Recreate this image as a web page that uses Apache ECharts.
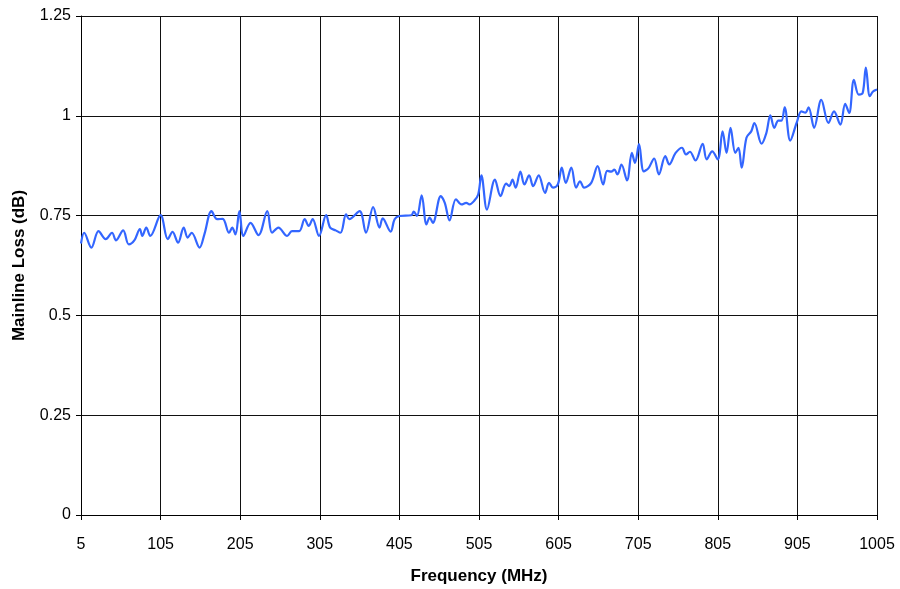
<!DOCTYPE html>
<html>
<head>
<meta charset="utf-8">
<script src="https://cdn.jsdelivr.net/npm/echarts@6/dist/echarts.min.js"></script>
<style>
html,body{margin:0;padding:0;background:#fff;}
#chart{width:900px;height:589px;}
</style>
</head>
<body>
<div id="chart"></div>
<script>
var freqMHz = [5,9,18,27,36,44,49,58,65,72,79,82,87,92,105,114,120,127,134,139,144,154,160,169,176,183,191,195,199,204,209,218,228,239,245,253,264,270,279,286,291,296,304,313,318,325,331,338,342,355,363,372,380,384,394,399,405,420,423,427,433,439,443,447,457,462,468,476,483,489,493,499,504,508,515,525,532,539,543,547,551,557,562,568,573,580,588,593,598,604,609,614,621,627,632,637,646,654,661,666,671,675,679,684,691,697,701,706,712,718,725,731,739,744,752,760,765,770,777,786,791,798,805,811,816,821,827,831,835,841,847,851,860,866,871,876,881,885,889,896,904,910,915,919,926,935,944,951,959,965,970,976,982,987,991,996,1000,1005];
var lossDb = [0.680,0.707,0.670,0.711,0.691,0.707,0.688,0.713,0.678,0.688,0.716,0.699,0.720,0.699,0.751,0.691,0.709,0.682,0.720,0.695,0.707,0.670,0.703,0.761,0.741,0.742,0.707,0.720,0.703,0.761,0.699,0.732,0.701,0.761,0.707,0.720,0.699,0.711,0.711,0.741,0.724,0.741,0.699,0.751,0.720,0.713,0.707,0.753,0.741,0.761,0.707,0.771,0.720,0.743,0.710,0.741,0.749,0.751,0.760,0.749,0.801,0.728,0.745,0.732,0.799,0.782,0.738,0.791,0.778,0.782,0.778,0.787,0.803,0.851,0.765,0.840,0.799,0.830,0.824,0.840,0.820,0.860,0.828,0.851,0.824,0.851,0.807,0.832,0.820,0.828,0.870,0.832,0.870,0.820,0.836,0.820,0.832,0.874,0.828,0.862,0.860,0.865,0.853,0.878,0.838,0.907,0.882,0.929,0.861,0.869,0.893,0.853,0.899,0.878,0.907,0.920,0.903,0.910,0.888,0.930,0.891,0.911,0.891,0.961,0.907,0.970,0.907,0.920,0.870,0.945,0.961,0.982,0.930,0.957,1.001,0.970,0.988,0.988,1.021,0.938,0.982,1.011,1.008,1.021,0.970,1.040,0.982,1.011,0.978,1.030,1.007,1.090,1.053,1.057,1.121,1.049,1.061,1.066];
var xTicks = [5,105,205,305,405,505,605,705,805,905,1005];
var yTicks = [0,0.25,0.5,0.75,1,1.25];

var seriesData = freqMHz.map(function(f,i){return [f, lossDb[i]];});
var font = '"Liberation Sans", Arial, sans-serif';

var chart = echarts.init(document.getElementById('chart'), null, {renderer:'canvas'});
chart.setOption({
  animation:false,
  backgroundColor:'#fff',
  grid:{left:81, right:23, top:16, bottom:74, containLabel:false, outerBoundsMode:'none'},
  xAxis:{
    type:'value', min:xTicks[0], max:xTicks[xTicks.length-1], interval:100,
    name:'Frequency (MHz)', nameLocation:'middle', nameGap:53,
    nameTextStyle:{fontFamily:font, fontSize:17, fontWeight:'bold', color:'#000'},
    axisLine:{show:true, onZero:false, lineStyle:{color:'#000', width:1}},
    axisTick:{show:true, length:5, inside:false, lineStyle:{color:'#000'}},
    axisLabel:{fontFamily:font, fontSize:16, color:'#000', margin:22,
      formatter:function(v){return String(v);}},
    splitLine:{show:true, lineStyle:{color:'#111', width:1}}
  },
  yAxis:{
    type:'value', min:yTicks[0], max:yTicks[yTicks.length-1], interval:0.25,
    name:'Mainline Loss (dB)', nameLocation:'middle', nameGap:53, nameRotate:90,
    nameTextStyle:{fontFamily:font, fontSize:17, fontWeight:'bold', color:'#000'},
    axisLine:{show:true, lineStyle:{color:'#000', width:1}},
    axisTick:{show:true, length:5, inside:false, lineStyle:{color:'#000'}},
    axisLabel:{fontFamily:font, fontSize:16, color:'#000', margin:10,
      formatter:function(v){return String(v);}},
    splitLine:{show:true, lineStyle:{color:'#111', width:1}}
  },
  series:[{
    type:'line', data:seriesData, smooth:0.35, showSymbol:false, symbol:'none',
    lineStyle:{color:'#3366FF', width:2.2}
  }]
});
</script>
</body>
</html>
